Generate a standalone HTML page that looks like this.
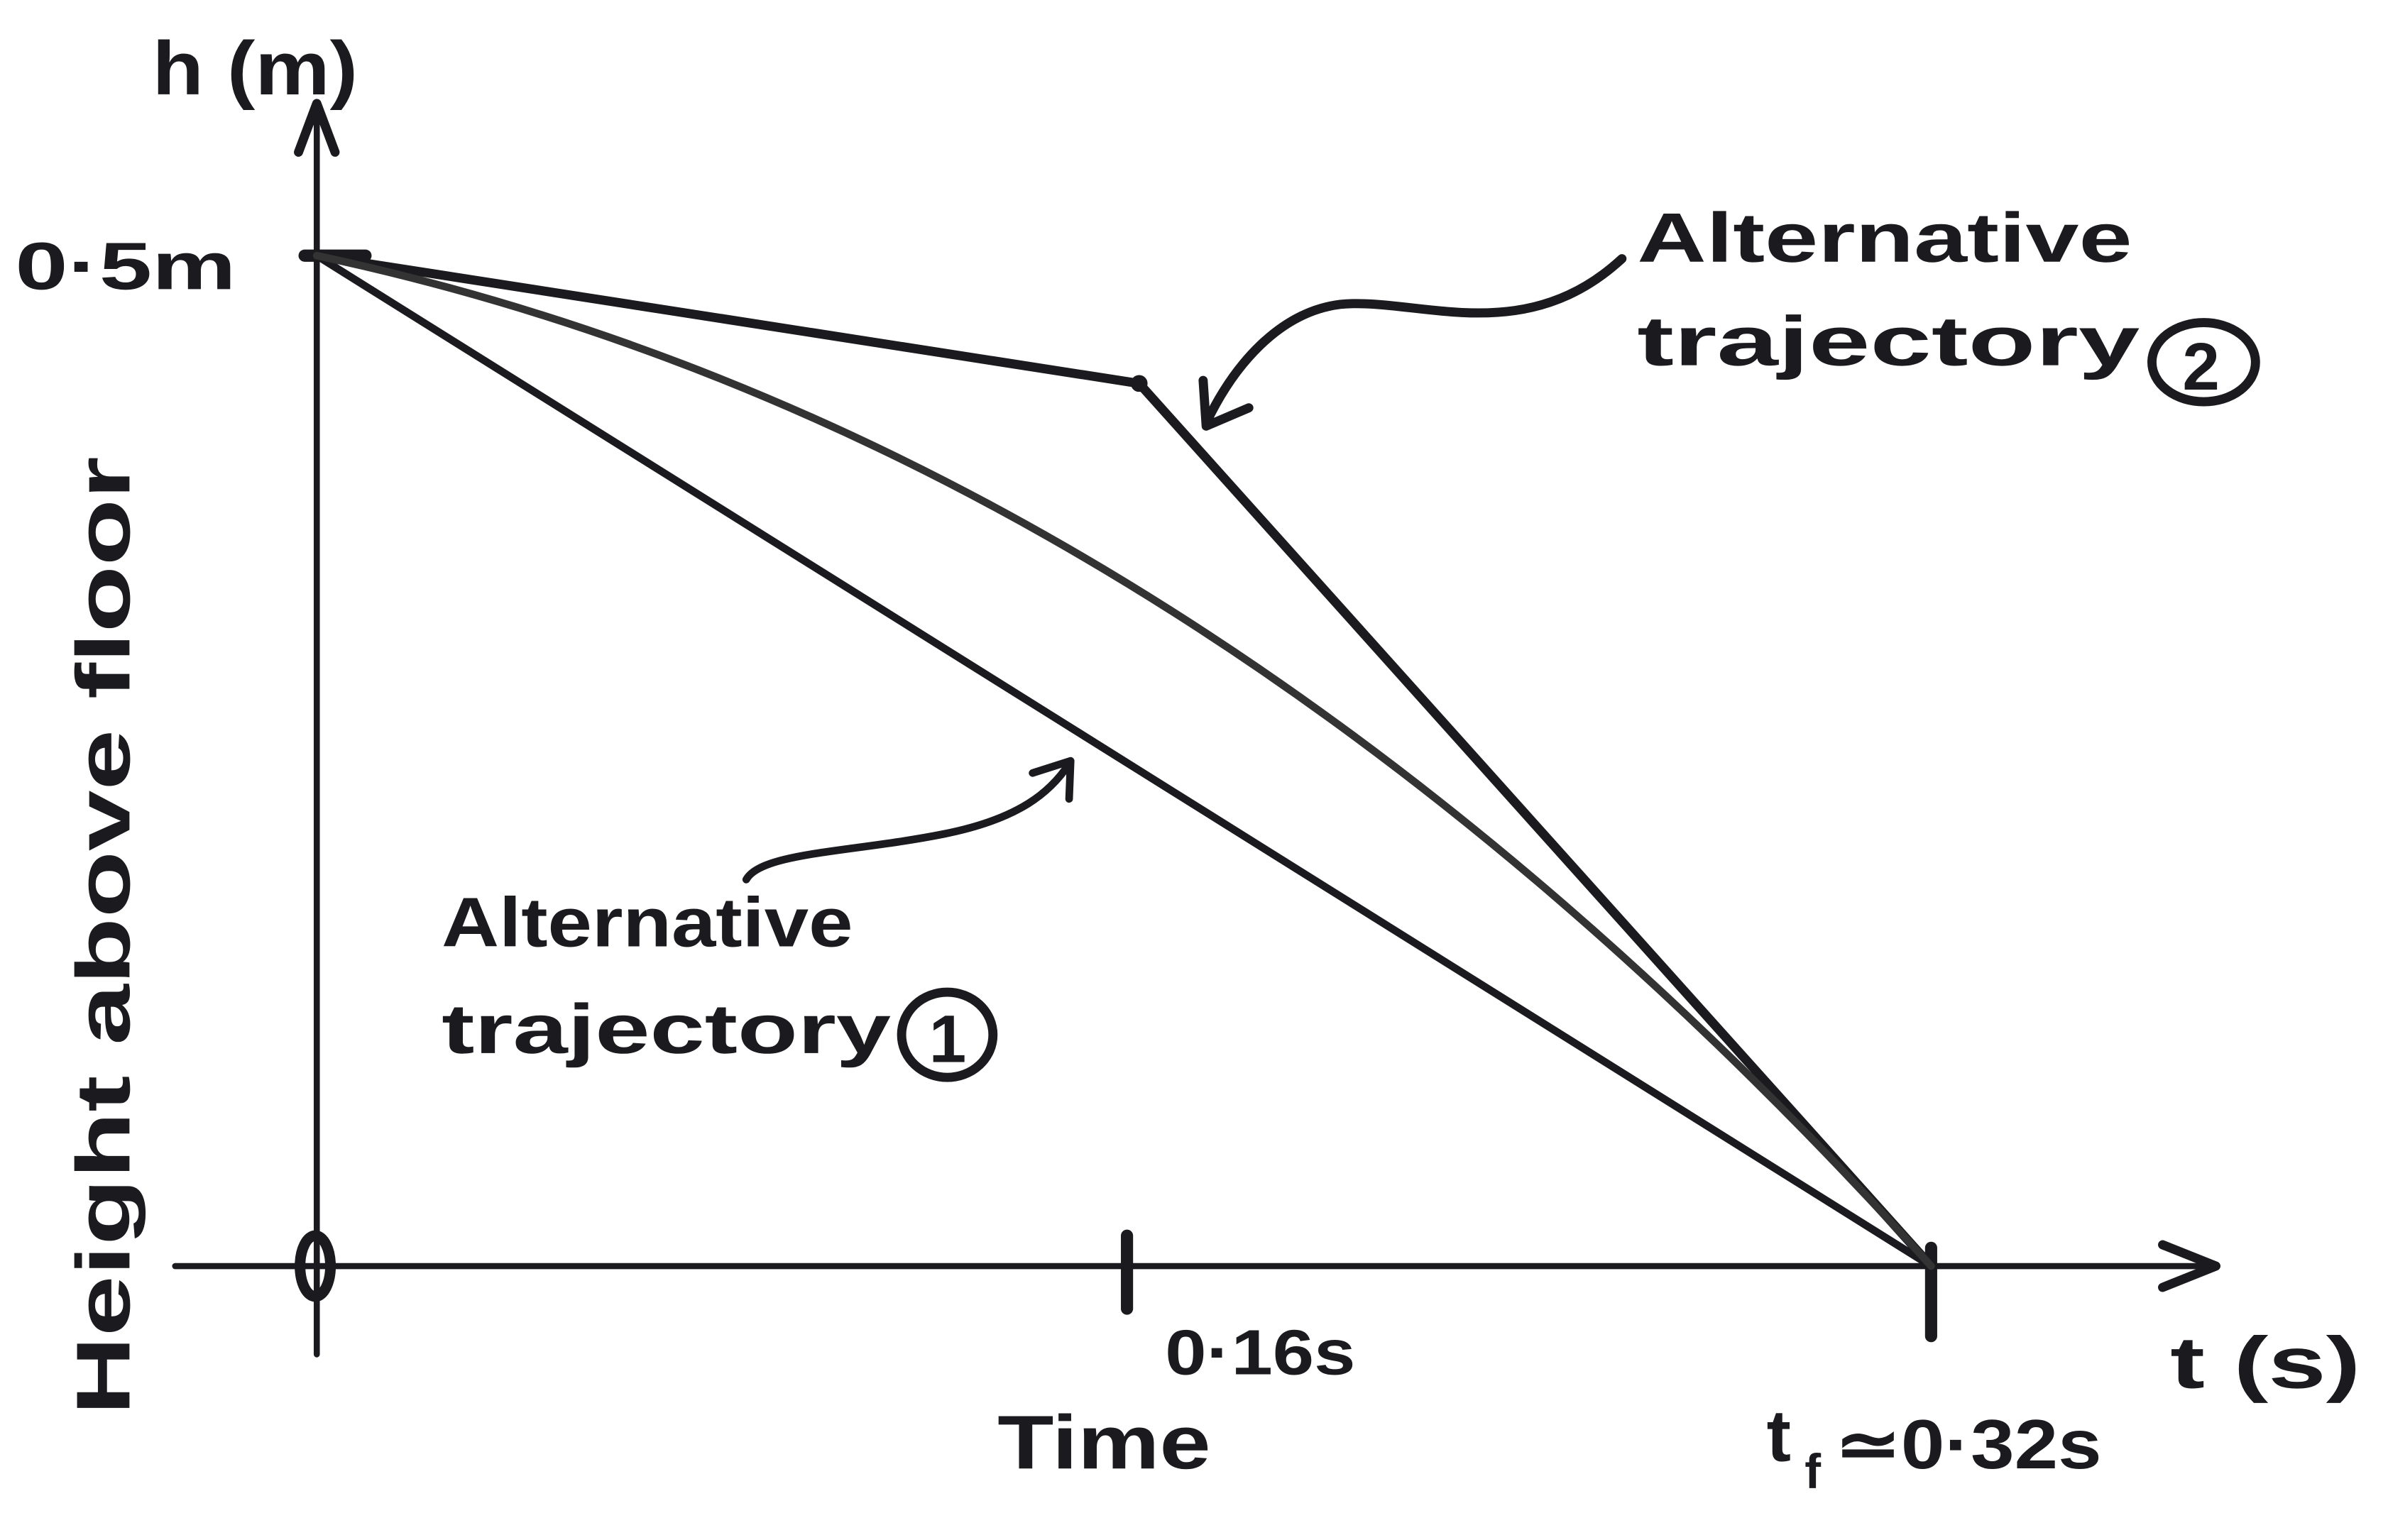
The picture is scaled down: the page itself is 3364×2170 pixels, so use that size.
<!DOCTYPE html>
<html><head><meta charset="utf-8"><style>
html,body{margin:0;padding:0;background:#fff;}
svg{display:block;}
text{font-family:"Liberation Sans",sans-serif;font-weight:bold;fill:#1a1a1f;}
</style></head><body>
<svg width="3364" height="2170" viewBox="0 0 1568 1012" preserveAspectRatio="none" xmlns="http://www.w3.org/2000/svg">
<rect width="1568" height="1012" fill="#fff"/>
<g stroke="#1a1a1f" fill="none" stroke-linecap="round" stroke-linejoin="round">
<line x1="208" y1="890" x2="208" y2="68" stroke-width="4"/>
<polyline points="196,100 208,68 220,100" stroke-width="6"/>
<line x1="115" y1="832" x2="1455" y2="832" stroke-width="4"/>
<polyline points="1420,818 1455,832 1420,846" stroke-width="6"/>
<line x1="200" y1="168" x2="240" y2="168" stroke-width="8"/>
<line x1="740" y1="812" x2="740" y2="860" stroke-width="8"/>
<line x1="1268" y1="820" x2="1268" y2="878" stroke-width="8"/>
<ellipse cx="207" cy="832" rx="10" ry="20" stroke-width="7"/>
<line x1="208" y1="168" x2="1268" y2="832" stroke-width="5"/>
<polyline points="208,168 748,252 1268,832" stroke-width="6"/>
<path d="M208,168 Q780,290 1268,832" stroke-width="5" stroke="#333"/>
<circle cx="748" cy="252" r="5" fill="#1a1a1f"/>
<path d="M1065,170 C1000,230 930,195 880,200 C840,205 810,240 792,278" stroke-width="6"/>
<polyline points="790,250 792,280 820,268" stroke-width="6"/>
<path d="M490,578 C500,560 560,560 620,548 C670,538 690,520 702,502" stroke-width="5"/>
<polyline points="678,508 703,500 702,525" stroke-width="5"/>
<ellipse cx="1447" cy="238" rx="34" ry="26" stroke-width="6"/>
<ellipse cx="622" cy="680" rx="30" ry="28" stroke-width="6"/>
</g>
<text x="100" y="62" font-size="50" textLength="135" lengthAdjust="spacingAndGlyphs">h (m)</text>
<text x="10" y="190" font-size="44" textLength="145" lengthAdjust="spacingAndGlyphs">0·5m</text>
<text x="1075" y="172" font-size="46" textLength="325" lengthAdjust="spacingAndGlyphs">Alternative</text>
<text x="1075" y="240" font-size="46" textLength="330" lengthAdjust="spacingAndGlyphs">trajectory</text>
<text x="1433" y="256" font-size="44">2</text>
<text x="290" y="622" font-size="46" textLength="270" lengthAdjust="spacingAndGlyphs">Alternative</text>
<text x="290" y="692" font-size="46" textLength="295" lengthAdjust="spacingAndGlyphs">trajectory</text>
<text x="610" y="698" font-size="44">1</text>
<text transform="translate(85,930) rotate(-90)" font-size="50" textLength="630" lengthAdjust="spacingAndGlyphs">Height above floor</text>
<text x="765" y="903" font-size="42" textLength="125" lengthAdjust="spacingAndGlyphs">0·16s</text>
<text x="655" y="965" font-size="50" textLength="140" lengthAdjust="spacingAndGlyphs">Time</text>
<text x="1160" y="960" font-size="48">t</text>
<text x="1185" y="978" font-size="32">f</text>
<text x="1205" y="965" font-size="46" textLength="175" lengthAdjust="spacingAndGlyphs">≃0·32s</text>
<text x="1425" y="912" font-size="48" textLength="125" lengthAdjust="spacingAndGlyphs">t (s)</text>
</svg>
</body></html>
